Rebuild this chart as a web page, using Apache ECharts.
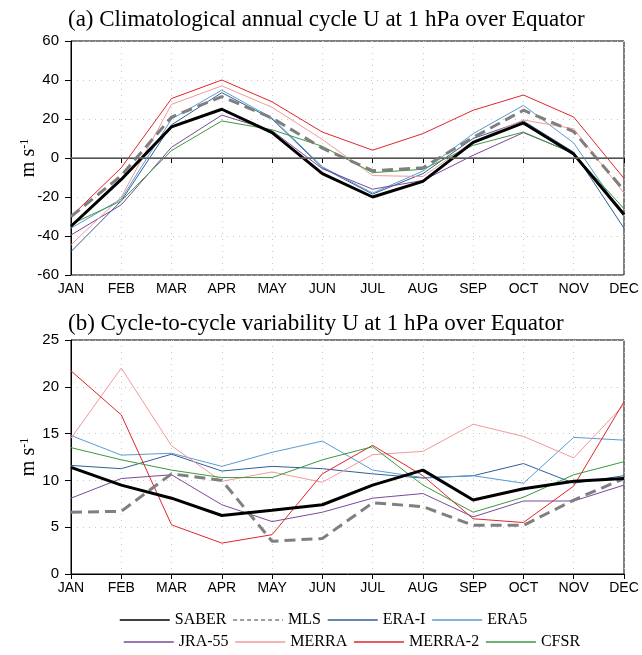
<!DOCTYPE html>
<html>
<head>
<meta charset="utf-8">
<script src="https://cdn.jsdelivr.net/npm/echarts@6/dist/echarts.min.js"></script>
<style>
  html, body { margin: 0; padding: 0; background: #fff; }
  #chart { width: 642px; height: 655px; }
</style>
</head>
<body>
<div id="chart"></div>
<script>
// Month categories shared by both panels
const months = ['JAN', 'FEB', 'MAR', 'APR', 'MAY', 'JUN', 'JUL', 'AUG', 'SEP', 'OCT', 'NOV', 'DEC'];

// (a) Climatological annual cycle of zonal wind U at 1 hPa (m/s)
const cycleSABER  = [-35, -11, 16, 25, 13, -8, -20, -12, 8, 18, 2, -29];
const cycleMLS    = [-30, -9, 21, 31.5, 20.5, 5, -6.5, -5, 10.5, 24.5, 13.5, -16.5];
const cycleERAI   = [-48, -22, 17, 33.5, 20, -5, -18.5, -8, 10, 19, 3, -36];
const cycleERA5   = [-36, -21, 20, 34.8, 20.5, -4.5, -18, -6.7, 12.5, 27, 7.7, -30];
const cycleJRA55  = [-39.5, -24, 5.5, 22, 14, -5.5, -16, -11.5, 1.4, 13, 2.5, -28];
const cycleMERRA  = [-44.5, -20, 27.5, 37, 26, 9.5, -9, -9.5, 8.5, 19.5, 15, -18];
const cycleMERRA2 = [-30, -5, 30.5, 40, 28.8, 13.3, 4, 12.5, 24.5, 32.3, 21, -10.5];
const cycleCFSR   = [-34, -22, 3.8, 19, 14.5, 6, -7.5, -5.8, 6.5, 13.3, 2.2, -26];

// (b) Cycle-to-cycle variability of U at 1 hPa (m/s)
const varSABER  = [11.4, 9.5, 8.1, 6.25, 6.8, 7.4, 9.5, 11.1, 7.9, 9.1, 9.9, 10.2];
const varMLS    = [6.6, 6.7, 10.7, 10.0, 3.5, 3.8, 7.6, 7.2, 5.2, 5.2, 7.9, 10.2];
const varERAI   = [11.6, 11.25, 12.8, 11.0, 11.5, 11.25, 10.7, 10.25, 10.5, 11.8, 9.7, 10.5];
const varERA5   = [14.8, 12.7, 12.9, 11.5, 13.0, 14.2, 11.1, 10.3, 10.5, 9.7, 14.6, 14.3];
const varJRA55  = [8.1, 10.2, 10.6, 7.4, 5.6, 6.6, 8.1, 8.6, 6.1, 7.8, 7.8, 9.5];
const varMERRA  = [14.5, 22.0, 13.7, 9.9, 10.9, 9.8, 12.75, 13.1, 16.0, 14.7, 12.4, 18.1];
const varMERRA2 = [21.7, 17.0, 5.25, 3.3, 4.2, 10.7, 13.75, 10.5, 5.9, 5.5, 9.4, 18.4];
const varCFSR   = [13.5, 12.2, 11.1, 10.3, 10.3, 12.2, 13.6, 9.5, 6.6, 8.2, 10.6, 12.0];

// Axis ticks
const cycleTicks = { min: -60, max: 60, interval: 20 };
const varTicks = { min: 0, max: 25, interval: 5 };

// Legend rows
const legendRow1 = ['SABER', 'MLS', 'ERA-I', 'ERA5'];
const legendRow2 = ['JRA-55', 'MERRA', 'MERRA-2', 'CFSR'];

const sansFont = 'Liberation Sans';
const serifFont = 'Liberation Serif';

// Dataset styling, drawn back to front (SABER on top)
const styles = [
  { name: 'ERA-I',   a: cycleERAI,   b: varERAI,   color: '#2e6199', width: 1 },
  { name: 'ERA5',    a: cycleERA5,   b: varERA5,   color: '#5b9bd0', width: 1 },
  { name: 'JRA-55',  a: cycleJRA55,  b: varJRA55,  color: '#7a4a9c', width: 1 },
  { name: 'MERRA',   a: cycleMERRA,  b: varMERRA,  color: '#f29a9a', width: 1 },
  { name: 'MERRA-2', a: cycleMERRA2, b: varMERRA2, color: '#e0262a', width: 1 },
  { name: 'CFSR',    a: cycleCFSR,   b: varCFSR,   color: '#3a9a3e', width: 1 },
  { name: 'MLS',     a: cycleMLS,    b: varMLS,    color: '#7f7f7f', width: 3, dash: [11, 6] },
  { name: 'SABER',   a: cycleSABER,  b: varSABER,  color: '#000000', width: 3 }
];

const grids = [
  { left: 71, right: 18, top: 41, height: 234 },
  { left: 71, right: 18, top: 340, height: 234 }
];

function xAxisFor(gridIndex) {
  return {
    type: 'category', gridIndex, data: months, boundaryGap: false,
    axisLine: { show: true, lineStyle: { color: '#000', width: 1 } },
    axisTick: { show: true, inside: false, length: 5, lineStyle: { color: '#000' } },
    axisLabel: { color: '#000', fontFamily: sansFont, fontSize: 14, margin: 7 },
    splitLine: { show: true, lineStyle: { color: '#c8c8c8', type: [1, 5], width: 1 } }
  };
}

function yAxisFor(gridIndex, ticks) {
  return {
    type: 'value', gridIndex, min: ticks.min, max: ticks.max, interval: ticks.interval,
    name: '{u|m s}{s|-1}', nameLocation: 'middle', nameGap: 32, nameMoveOverlap: false,
    nameTextStyle: {
      color: '#000',
      rich: {
        u: { fontFamily: serifFont, fontSize: 20, color: '#000' },
        s: { fontFamily: serifFont, fontSize: 12, color: '#000', verticalAlign: 'top' }
      }
    },
    axisLine: { show: true, lineStyle: { color: '#000', width: 1 } },
    axisTick: { show: true, inside: false, length: 6, lineStyle: { color: '#000' } },
    axisLabel: { color: '#000', fontFamily: sansFont, fontSize: 15, margin: 12 },
    splitLine: { show: true, lineStyle: { color: '#c8c8c8', type: [1, 5], width: 1 } }
  };
}

const series = [];
styles.forEach(function (s) {
  [0, 1].forEach(function (idx) {
    series.push({
      name: s.name, type: 'line',
      xAxisIndex: idx, yAxisIndex: idx,
      data: idx === 0 ? s.a : s.b,
      symbol: 'none', smooth: false, silent: true,
      lineStyle: { color: s.color, width: s.width, type: s.dash || 'solid' },
      itemStyle: { color: s.color },
      z: 3
    });
  });
});

// Zero reference line across the annual-cycle panel
series.unshift({
  type: 'line', xAxisIndex: 0, yAxisIndex: 0, data: [],
  symbol: 'none', silent: true,
  markLine: {
    silent: true, symbol: 'none', label: { show: false },
    lineStyle: { color: '#6e6e6e', width: 1.6, type: 'solid' },
    data: [{ yAxis: 0 }]
  },
  z: 2
});

// Legend entries: thin lines, with a finer dash for MLS
function legendItems(names) {
  return names.map(function (n) {
    return n === 'MLS' ? { name: n, lineStyle: { type: [4, 3], width: 1.5 } } : { name: n };
  });
}

const legendBase = {
  padding: 0,
  itemWidth: 50, itemHeight: 12, itemGap: 6,
  textStyle: { fontFamily: serifFont, fontSize: 16, color: '#000' },
  lineStyle: { width: 1.5 },
  itemStyle: { opacity: 0, borderWidth: 0 },
  selectedMode: false
};

const option = {
  backgroundColor: '#fff',
  animation: false,
  title: [
    { text: '(a) Climatological annual cycle U at 1 hPa over Equator', left: 68, top: 8, padding: 0,
      textStyle: { fontFamily: serifFont, fontSize: 23, fontWeight: 'normal', color: '#000' } },
    { text: '(b) Cycle-to-cycle variability U at 1 hPa over Equator', left: 68, top: 312, padding: 0,
      textStyle: { fontFamily: serifFont, fontSize: 23, fontWeight: 'normal', color: '#000' } }
  ],
  grid: grids.map(function (g) {
    return Object.assign({ show: true, borderColor: '#000', borderWidth: 1, backgroundColor: 'transparent' }, g);
  }),
  xAxis: [xAxisFor(0), xAxisFor(1)],
  yAxis: [yAxisFor(0, cycleTicks), yAxisFor(1, varTicks)],
  legend: [
    Object.assign({}, legendBase, { left: 119, top: 612, data: legendItems(legendRow1) }),
    Object.assign({}, legendBase, { left: 123, top: 634, data: legendItems(legendRow2) })
  ],
  series: series
};

const chart = echarts.init(document.getElementById('chart'), null, { renderer: 'canvas' });
chart.setOption(option);
</script>
</body>
</html>
